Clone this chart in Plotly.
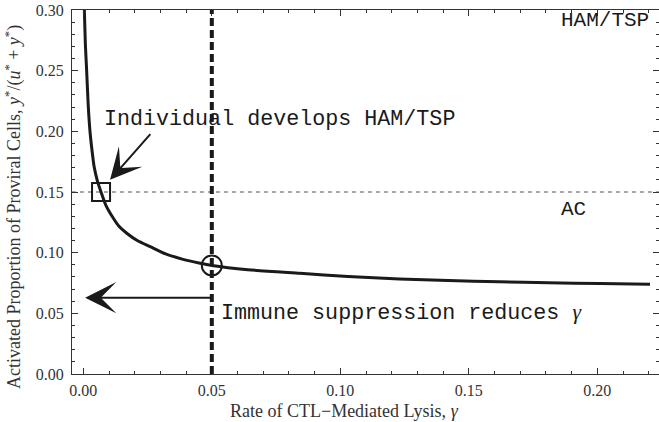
import plotly.graph_objects as go

# Curve: gamma (rate of CTL-mediated lysis) vs activated proportion
gamma = [0.0004, 0.0008, 0.0013, 0.0019, 0.0026, 0.0034, 0.0042, 0.0055, 0.0069,
         0.0088, 0.0112, 0.0138, 0.0169, 0.0210, 0.0260, 0.0320, 0.0388, 0.0450,
         0.0500, 0.0640, 0.0843, 0.1030, 0.1230, 0.1420, 0.1620, 0.1810, 0.2010, 0.2205]
proportion = [0.300, 0.272, 0.250, 0.222, 0.200, 0.184, 0.171, 0.159, 0.150,
              0.139, 0.130, 0.122, 0.116, 0.110, 0.105, 0.0990, 0.0945, 0.0915,
              0.0895, 0.0860, 0.0830, 0.0803, 0.0783, 0.0770, 0.0760, 0.0752, 0.0745, 0.0740]

threshold_y = 0.15          # HAM/TSP vs AC boundary
current_gamma = 0.05        # vertical dashed line
square_pt = (0.0069, 0.150)
circle_pt = (0.05, 0.0895)

x_ticks = [0.00, 0.05, 0.10, 0.15, 0.20]
x_ticklabels = ["0.00", "0.05", "0.10", "0.15", "0.20"]
y_ticks = [0.00, 0.05, 0.10, 0.15, 0.20, 0.25, 0.30]
y_ticklabels = ["0.00", "0.05", "0.10", "0.15", "0.20", "0.25", "0.30"]

x_range = [-0.0044, 0.2240]
y_range = [0.0, 0.30]

MONO = "Liberation Mono, Courier New, monospace"
SERIF = "Liberation Serif, Times New Roman, serif"
INK = "#1a1a1a"

fig = go.Figure()

fig.add_trace(go.Scatter(
    x=gamma, y=proportion, mode="lines",
    line=dict(color=INK, width=3, shape="spline", smoothing=0.6),
    hoverinfo="skip", showlegend=False, cliponaxis=True))

fig.add_trace(go.Scatter(
    x=[square_pt[0]], y=[square_pt[1]], mode="markers",
    marker=dict(symbol="square-open", size=18, color=INK, line=dict(width=2, color=INK)),
    showlegend=False, hoverinfo="skip"))

fig.add_trace(go.Scatter(
    x=[circle_pt[0]], y=[circle_pt[1]], mode="markers",
    marker=dict(symbol="circle-open", size=20, color=INK, line=dict(width=2, color=INK)),
    showlegend=False, hoverinfo="skip"))

# reference lines
fig.add_shape(type="line", xref="x", yref="y", x0=x_range[0], x1=x_range[1],
              y0=threshold_y, y1=threshold_y,
              line=dict(color="#555555", width=1, dash="4px,4px"), layer="below")
fig.add_shape(type="line", xref="x", yref="y", x0=current_gamma, x1=current_gamma,
              y0=y_range[0], y1=y_range[1],
              line=dict(color=INK, width=4, dash="8px,4px"))

annotations = [
    # arrows
    dict(x=0.0007, y=0.0629, ax=0.05, ay=0.0629, xref="x", yref="y", axref="x", ayref="y",
         text="", showarrow=True, arrowhead=3, arrowsize=2.6, arrowwidth=2, arrowcolor=INK,
         standoff=0),
    dict(x=0.0104, y=0.160, ax=0.0266, ay=0.199, xref="x", yref="y", axref="x", ayref="y",
         text="", showarrow=True, arrowhead=3, arrowsize=2.6, arrowwidth=2, arrowcolor=INK,
         standoff=0),
    # texts
    dict(x=0.0073, y=0.2100, xref="x", yref="y", text="Individual develops HAM/TSP",
         showarrow=False, xanchor="left", yanchor="middle",
         font=dict(family=MONO, size=21.7, color=INK)),
    dict(x=0.0529, y=0.0503, xref="x", yref="y",
         text="Immune suppression reduces <i><span style=\"font-family:Liberation Serif\">γ</span></i>",
         showarrow=False, xanchor="left", yanchor="middle",
         font=dict(family=MONO, size=21.7, color=INK)),
    dict(x=0.2209, y=0.291, xref="x", yref="y", text="HAM/TSP",
         showarrow=False, xanchor="right", yanchor="middle",
         font=dict(family=MONO, size=21, color=INK)),
    dict(x=0.1909, y=0.1352, xref="x", yref="y", text="AC",
         showarrow=False, xanchor="center", yanchor="middle",
         font=dict(family=MONO, size=21, color=INK)),
    # axis titles
    dict(x=0.465, y=-0.102, xref="paper", yref="paper",
         text="Rate of CTL\u2212Mediated Lysis, <i>γ</i>",
         showarrow=False, xanchor="center", yanchor="middle",
         font=dict(family=SERIF, size=18, color="#333333")),
    dict(x=-0.0990, y=0.4588, xref="paper", yref="paper", textangle=-90,
         text="Activated Proportion of Proviral Cells, <i>y</i><sup>*</sup>/(<i>u</i><sup>*</sup> + <i>y</i><sup>*</sup>)",
         showarrow=False, xanchor="center", yanchor="middle",
         font=dict(family=SERIF, size=18, color="#333333")),
]

axis_common = dict(
    showgrid=False, zeroline=False, showline=True, linecolor="#333333", linewidth=1.2,
    mirror="allticks", ticks="inside", ticklen=6, tickwidth=1, tickcolor="#333333",
    tickfont=dict(family=SERIF, size=16, color="#333333"),
    minor=dict(ticks="inside", ticklen=3, tickwidth=1, tickcolor="#333333", dtick=0.01, showgrid=False),
)

fig.update_layout(
    width=659, height=422,
    margin=dict(l=72, r=0, t=10, b=48),
    paper_bgcolor="white", plot_bgcolor="white",
    xaxis=dict(range=x_range, tickvals=x_ticks, ticktext=x_ticklabels,
               ticklabelstandoff=2, **axis_common),
    yaxis=dict(range=y_range, tickvals=y_ticks, ticktext=y_ticklabels,
               ticklabelstandoff=4, **axis_common),
    annotations=annotations,
    showlegend=False,
)

fig.write_html("out.html")
